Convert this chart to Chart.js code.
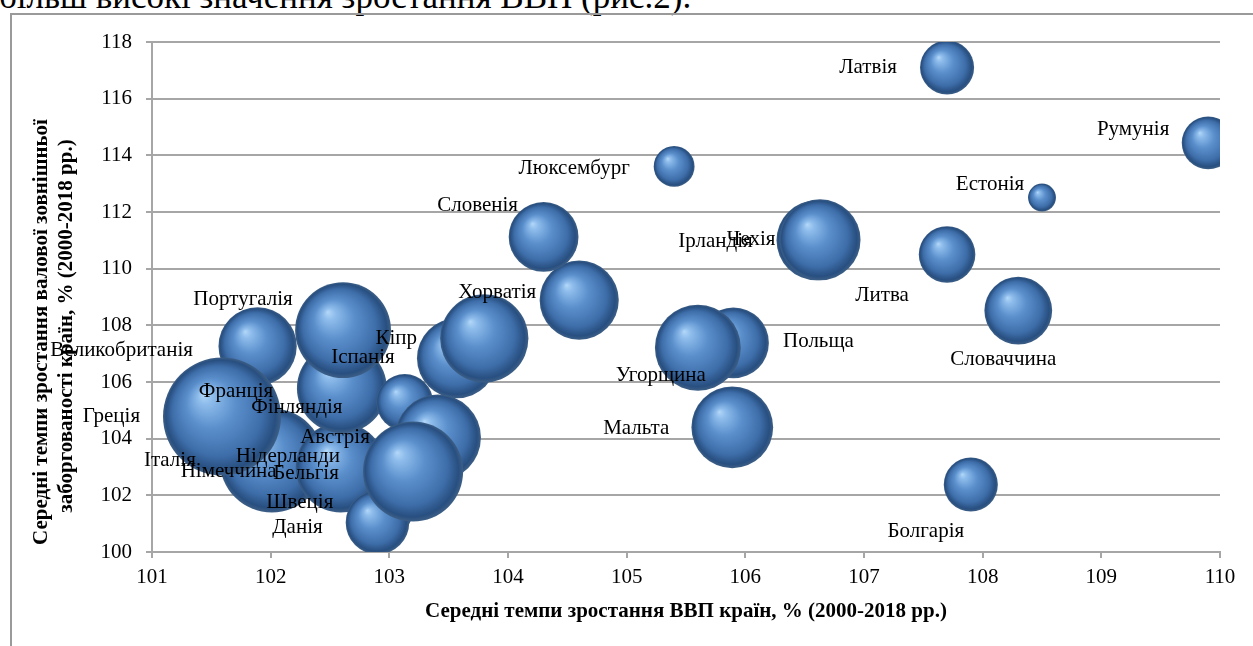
<!DOCTYPE html>
<html lang="uk">
<head>
<meta charset="utf-8">
<script src="https://cdn.jsdelivr.net/npm/chart.js@4.4.1/dist/chart.umd.min.js"></script>
<style>
  html, body { margin: 0; padding: 0; background: #fff; overflow: hidden; }
  body { width: 1253px; height: 646px; position: relative; }
  #lead {
    position: absolute; left: -1px; top: -23px;
    font: 35px "Liberation Serif", "Times New Roman", serif;
    line-height: 40px; white-space: nowrap; color: #000;
  }
  #frame {
    position: absolute; left: 10px; top: 13px; width: 1400px; height: 800px;
    border-left: 2px solid #9a9a9a; border-top: 2px solid #9a9a9a;
  }
  #chart { position: absolute; left: 0; top: 0; }
</style>
</head>
<body>
<div id="lead">більш високі значення зростання ВВП (рис.2).</div>
<div id="frame"></div>
<canvas id="chart" width="1253" height="646"></canvas>
<script>
// countries, listed back to front (later bubbles are drawn on top)
const countries = [
    'Греція', 'Великобританія', 'Італія', 'Франція', 'Німеччина', 'Нідерланди',
    'Португалія', 'Фінляндія', 'Іспанія', 'Кіпр', 'Австрія', 'Швеція', 'Данія',
    'Бельгія', 'Хорватія', 'Словенія', 'Люксембург', 'Польща', 'Угорщина',
    'Мальта', 'Ірландія', 'Чехія', 'Латвія', 'Литва', 'Естонія', 'Словаччина',
    'Болгарія', 'Румунія'
];
// average GDP growth, % (x)
const gdpGrowth = [
    101.45, 101.89, 102.01, 101.59, 102.59, 102.60,
    102.61, 103.13, 103.57, 103.80, 103.41, 102.97, 102.90,
    103.20, 104.60, 104.30, 105.40, 105.90, 105.60,
    105.89, 106.60, 106.63, 107.70, 107.70, 108.50, 108.30,
    107.90, 109.90
];
// average growth of gross external debt, % (y)
const debtGrowth = [
    104.82, 107.26, 103.23, 104.78, 102.98, 105.78,
    107.83, 105.28, 106.84, 107.54, 104.04, 101.46, 101.04,
    102.84, 108.89, 111.12, 113.61, 107.38, 107.21,
    104.40, 111.00, 111.02, 117.10, 110.50, 112.51, 108.52,
    102.38, 114.44
];
// bubble size (relative, France = 100)
const bubbleSize = [
    46, 44, 78, 100, 58, 58,
    66, 23, 46, 56, 53, 21, 29,
    72, 45, 35, 12, 36, 53,
    48, 46, 47, 21, 23, 5.6, 33,
    21, 20
];
const xTicks = [101, 102, 103, 104, 105, 106, 107, 108, 109, 110];
const yTicks = [100, 102, 104, 106, 108, 110, 112, 114, 116, 118];

const xTitle = 'Середні темпи зростання ВВП країн, % (2000-2018 рр.)';
const yTitle = ['Середні темпи зростання валової зовнішньої',
                'заборгованості країн, % (2000-2018 рр.)'];

// where each data label sits, relative to its bubble centre (px)
const labelOffsets = [
    [-94, 1], [-136, 4], [-102, 0], [14, -25], [-112, 4], [-54, 68],
    [-100, -31], [-108, 5], [-94, -1], [-88, 0], [-103, 0], [-86, -8], [-80, 5],
    [-107, 2], [-82, -8], [-66, -31], [-100, 2], [85, -1], [-37, 28],
    [-96, 1], [-101, 1], [-69, 0], [-79, 0], [-65, 41], [-52, -13], [-15, 49],
    [-45, 47], [-75, -13]
];

const MAX_RADIUS = 59;   // px for the largest bubble
const GRID = '#a6a6a6';
const SERIF = '"Liberation Serif", "Times New Roman", serif';

const maxSize = Math.max(...bubbleSize);
const points = countries.map((c, i) => ({
    x: gdpGrowth[i],
    y: debtGrowth[i],
    r: MAX_RADIUS * Math.sqrt(bubbleSize[i] / maxSize)
}));

// shaded sphere fill
function sphereFill(ctx) {
    const chart = ctx.chart;
    const raw = ctx.raw;
    if (!chart.chartArea || !raw) return '#4f81bd';
    const x = chart.scales.x.getPixelForValue(raw.x);
    const y = chart.scales.y.getPixelForValue(raw.y);
    const r = raw.r;
    if (!isFinite(x) || !isFinite(y)) return '#4f81bd';
    const g = chart.ctx.createRadialGradient(x - r * 0.32, y - r * 0.38, 0, x, y, r);
    g.addColorStop(0, '#b4d8f8');
    g.addColorStop(0.12, '#8fbdec');
    g.addColorStop(0.42, '#5a8fcc');
    g.addColorStop(0.75, '#3f6fab');
    g.addColorStop(0.93, '#284f80');
    g.addColorStop(1, '#3d5f86');
    return g;
}

// country names next to the bubbles
const bubbleLabels = {
    id: 'bubbleLabels',
    afterDatasetsDraw(chart) {
        const ctx = chart.ctx;
        const meta = chart.getDatasetMeta(0);
        ctx.save();
        ctx.font = '21px ' + SERIF;
        ctx.fillStyle = '#000';
        ctx.textAlign = 'center';
        ctx.textBaseline = 'middle';
        meta.data.forEach((pt, i) => {
            const off = labelOffsets[i];
            ctx.fillText(countries[i], pt.x + off[0], pt.y + off[1]);
        });
        ctx.restore();
    }
};

// rotated two-line title of the value axis
const yAxisTitle = {
    id: 'yAxisTitle',
    afterDraw(chart) {
        const ctx = chart.ctx;
        ctx.save();
        ctx.font = 'bold 21px ' + SERIF;
        ctx.fillStyle = '#000';
        ctx.textAlign = 'center';
        ctx.textBaseline = 'middle';
        ctx.translate(42, 332);
        ctx.rotate(-Math.PI / 2);
        ctx.fillText(yTitle[0], 0, 0);
        ctx.fillText(yTitle[1], 6, 25);
        ctx.restore();
    }
};

new Chart(document.getElementById('chart'), {
    type: 'bubble',
    data: {
        labels: countries,
        datasets: [{
            data: points,
            backgroundColor: sphereFill,
            borderWidth: 0,
            clip: 0
        }]
    },
    options: {
        responsive: false,
        animation: false,
        events: [],
        layout: {
            autoPadding: false,
            padding: { top: 42, right: 33, bottom: 0, left: 0 }
        },
        plugins: {
            legend: { display: false },
            tooltip: { enabled: false }
        },
        scales: {
            x: {
                type: 'linear',
                min: xTicks[0],
                max: xTicks[xTicks.length - 1],
                afterBuildTicks: s => { s.ticks = xTicks.map(v => ({ value: v })); },
                afterFit: s => { s.height = 94; },
                ticks: {
                    color: '#000',
                    font: { family: SERIF, size: 21 },
                    padding: 7,
                    maxRotation: 0
                },
                grid: { drawOnChartArea: false, tickLength: 6, color: GRID, lineWidth: 2 },
                border: { display: true, color: GRID, width: 2 },
                title: {
                    display: true,
                    text: xTitle,
                    color: '#000',
                    font: { family: SERIF, size: 21, weight: 'bold' },
                    padding: { top: 0, bottom: 22 }
                }
            },
            y: {
                type: 'linear',
                min: yTicks[0],
                max: yTicks[yTicks.length - 1],
                afterBuildTicks: s => { s.ticks = yTicks.map(v => ({ value: v })); },
                afterFit: s => { s.width = 152; },
                ticks: {
                    color: '#000',
                    font: { family: SERIF, size: 21 },
                    padding: 14
                },
                grid: { tickLength: 6, color: GRID, lineWidth: 2 },
                border: { display: true, color: GRID, width: 2 }
            }
        }
    },
    plugins: [bubbleLabels, yAxisTitle]
});
</script>
</body>
</html>
